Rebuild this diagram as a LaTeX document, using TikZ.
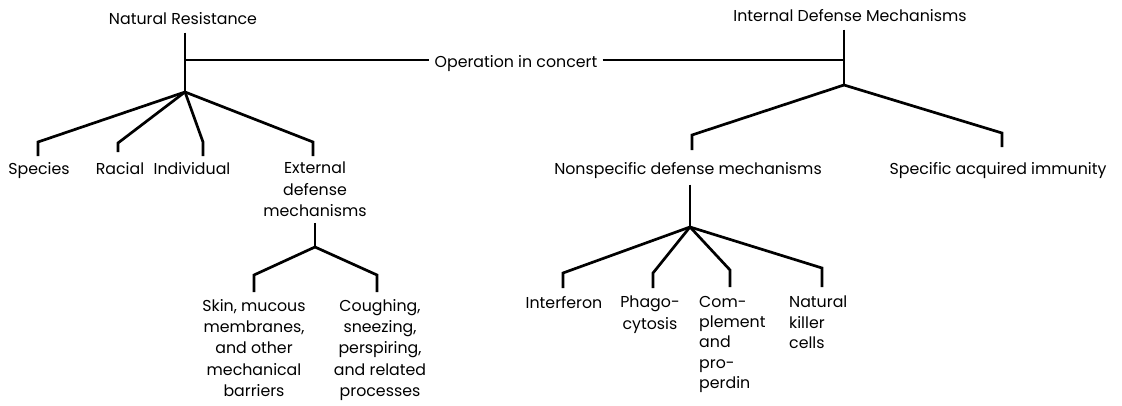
\documentclass[tikz,border=0pt]{standalone}
\usepackage{fontspec}
\setmainfont{Poppins}
\usetikzlibrary{calc}
\begin{document}
\begin{tikzpicture}[x=1pt,y=-1pt,
  lbl/.style={font=\fontsize{15.8}{21.3}\selectfont, inner sep=0pt, align=center, anchor=north},
  lbll/.style={lbl, align=left},
  link/.style={line width=2.7pt, line join=miter}]
\useasboundingbox (0,0) rectangle (1122,405);

% headings and the link between them
\node[lbl] (nr)  at (183,12) {Natural Resistance};
\node[lbl] (idm) at (850,9) {Internal Defense Mechanisms};
\node[lbl, anchor=base, inner xsep=5pt] (op) at (516,67) {Operation in concert};

\coordinate (nrJ) at (185,92);
\coordinate (idJ) at (844,85);

\draw[link] ($(nrJ |- nr.south)+(0,8)$) -- (nrJ);
\draw[link] ($(idJ |- idm.south)+(0,8)$) -- (idJ);
\draw[link] (nrJ |- 0,60) -- (op.west |- 0,60);
\draw[link] (op.east |- 0,60) -- (idJ |- 0,60);

% natural resistance branches
\node[lbl] (sp)  at (39,162)  {Species};
\node[lbl] (rc)  at (120,162) {Racial};
\node[lbl] (ind) at (192,162) {Individual};
\node[lbl] (ext) at (315,162) {External\\defense\\mechanisms};

\coordinate (cSp)  at (38,142);
\coordinate (cRc)  at (118,143);
\coordinate (cInd) at (203,142);
\coordinate (cExt) at (313,142);

\draw[link] (nrJ) -- (cSp)  -- ($(cSp |- sp.north)+(0,-6)$);
\draw[link] (nrJ) -- (cRc)  -- ($(cRc |- rc.north)+(0,-10)$);
\draw[link] (nrJ) -- (cInd) -- ($(cInd |- ind.north)+(0,-6)$);
\draw[link] (nrJ) -- (cExt) -- ($(cExt |- ext.north)+(0,-6)$);

% external defense mechanisms
\coordinate (extJ) at (315,247);
\node[lbl] (skin) at (254,299) {Skin, mucous\\membranes,\\and other\\mechanical\\barriers};
\node[lbl] (cgh)  at (380,299) {Coughing,\\sneezing,\\perspiring,\\and related\\processes};
\coordinate (cSkin) at (254,275);
\coordinate (cCgh)  at (377,275);

\draw[link] ($(extJ |- ext.south)+(0,6)$) -- (extJ);
\draw[link] (extJ) -- (cSkin) -- ($(cSkin |- skin.north)+(0,-7)$);
\draw[link] (extJ) -- (cCgh)  -- ($(cCgh |- cgh.north)+(0,-7)$);

% internal defense mechanisms branches
\node[lbl] (nsp) at (688,162) {Nonspecific defense mechanisms};
\node[lbl] (sai) at (998,162) {Specific acquired immunity};
\coordinate (cNsp) at (692,135);
\coordinate (cSai) at (1002,133);

\draw[link] (idJ) -- (cNsp) -- ($(cNsp |- nsp.north)+(0,-12)$);
\draw[link] (idJ) -- (cSai) -- ($(cSai |- sai.north)+(0,-15)$);

% nonspecific defense mechanisms
\coordinate (nspJ) at (690,227);
\node[lbl]  (itf) at (564,296) {Interferon};
\node[lbl]  (phg) at (650,296) {Phago-\\cytosis};
\node[lbll, anchor=north west, font=\fontsize{15.8}{20.3}\selectfont] (cmp) at (699,296) {Com-\\plement\\and\\pro-\\perdin};
\node[lbll, anchor=north west, font=\fontsize{15.8}{20.3}\selectfont] (nkc) at (789,296) {Natural\\killer\\cells};
\coordinate (cItf) at (563,273);
\coordinate (cPhg) at (653,273);
\coordinate (cCmp) at (730,270);
\coordinate (cNkc) at (822,268);

\draw[link] ($(nspJ |- nsp.south)+(0,6)$) -- (nspJ);
\draw[link] (nspJ) -- (cItf) -- ($(cItf |- itf.north)+(0,-8)$);
\draw[link] (nspJ) -- (cPhg) -- ($(cPhg |- phg.north)+(0,-8)$);
\draw[link] (nspJ) -- (cCmp) -- ($(cCmp |- cmp.north)+(0,-9)$);
\draw[link] (nspJ) -- (cNkc) -- ($(cNkc |- nkc.north)+(0,-9)$);
\end{tikzpicture}
\end{document}
